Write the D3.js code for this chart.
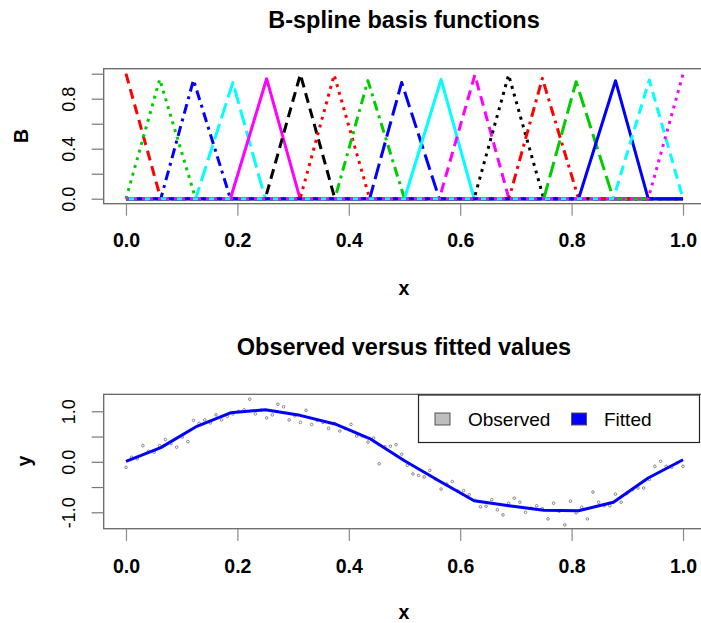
<!DOCTYPE html>
<html><head><meta charset="utf-8">
<script src="https://cdn.jsdelivr.net/npm/d3@7"></script>
<style>
body{margin:0;background:#fff}
svg{display:block}
text{font-family:"Liberation Sans",Arial,Helvetica,sans-serif;fill:#000}
</style>
</head><body>
<svg id="c" width="701" height="623"></svg>
<script>
// ---------- data ----------
const knots = [0, 0.0625, 0.125, 0.1875, 0.25, 0.3125, 0.375, 0.4375, 0.5, 0.5625, 0.625, 0.6875, 0.75, 0.8125, 0.875, 0.9375, 1];
const basisPeakX = [0, 0.0606, 0.1212, 0.1919, 0.2525, 0.3131, 0.3737, 0.4343, 0.4949, 0.5657, 0.6263, 0.6869, 0.7475, 0.8081, 0.8788, 0.9394, 1];
const basisPeakH = [1.0, 0.955, 0.95, 0.93, 0.96, 0.995, 0.99, 0.945, 0.93, 0.955, 0.99, 0.99, 0.963, 0.936, 0.944, 0.95, 0.995];
const fitX = knots;
const fitY = [0.01, 0.28, 0.69, 0.97, 1.03, 0.92, 0.75, 0.46, 0.02, -0.38, -0.77, -0.87, -0.96, -0.97, -0.80, -0.32, 0.04];
const obsY = [-0.11, 0.09, 0.06, 0.32, 0.21, 0.19, 0.32, 0.44, 0.36, 0.29,
  0.49, 0.40, 0.82, 0.76, 0.83, 0.77, 0.93, 0.83, 0.90, 0.95,
  1.00, 1.03, 1.24, 0.95, 1.02, 0.87, 0.93, 1.14, 1.09, 0.83,
  0.91, 0.78, 1.02, 0.74, 0.82, 0.78, 0.66, 0.76, 0.61, 0.66,
  0.74, 0.51, 0.51, 0.39, 0.47, -0.04, 0.30, 0.31, 0.34, 0.15,
  -0.07, -0.24, -0.27, -0.30, -0.17, -0.34, -0.54, -0.44, -0.39, -0.58,
  -0.57, -0.65, -0.76, -0.89, -0.88, -0.75, -0.95, -1.05, -0.82, -0.72,
  -0.80, -1.00, -0.92, -0.87, -0.93, -1.13, -0.82, -0.98, -1.25, -0.78,
  -1.01, -0.90, -1.13, -0.60, -0.80, -0.87, -0.87, -0.64, -0.80, -0.63,
  -0.55, -0.52, -0.52, -0.35, -0.09, 0.01, -0.09, -0.11, -0.02, -0.09];
const obsX = d3.range(obsY.length).map(k => k / (obsY.length - 1));
const xTicks = [0, 0.2, 0.4, 0.6, 0.8, 1.0];
const bTicks = [0, 0.2, 0.4, 0.6, 0.8, 1.0];
const bTickLabels = ["0.0", "", "0.4", "", "0.8", ""];
const yTicks = [-1, -0.5, 0, 0.5, 1];
const yTickLabels = ["-1.0", "", "0.0", "", "1.0"];
const legendLabels = ["Observed", "Fitted"];

// ---------- styles ----------
const palette = ["#000000", "#FF0000", "#00CD00", "#0000FF", "#00FFFF", "#FF00FF"];
const dashes = [null, "10,6", "3,5", "3,5,10,5", "16,6"];
const FONT = '"Liberation Sans",Arial,Helvetica,sans-serif';

const svg = d3.select("#c");
svg.append("rect").attr("width", 701).attr("height", 623).attr("fill", "#fff");

const x = d3.scaleLinear().domain([-0.04, 1.04]).range([103.7, 705.3]);

function xAxis(g, yBox, labelY) {
  const ax = d3.axisBottom(x).tickValues(xTicks).tickSize(12).tickSizeOuter(0).tickFormat(d3.format(".1f"));
  const a = g.append("g").attr("transform", `translate(0,${yBox})`).call(ax);
  a.select(".domain").remove();
  a.selectAll(".tick line").attr("stroke", "#8a8a8a").attr("stroke-width", 1.2);
  a.selectAll(".tick text").attr("y", labelY).attr("dy", 0)
    .attr("font-family", FONT).attr("font-size", 19.5).attr("font-weight", "bold").attr("fill", "#000");
}

function yAxis(g, yScale, ticks, labels, labelX) {
  const ax = d3.axisLeft(yScale).tickValues(ticks).tickSize(12).tickSizeOuter(0).tickFormat((d, i) => labels[i]);
  const a = g.append("g").attr("transform", `translate(103.7,0)`).call(ax);
  a.select(".domain").remove();
  a.selectAll(".tick line").attr("stroke", "#777").attr("stroke-width", 1.2);
  a.selectAll(".tick text").attr("x", 0).attr("dy", 0).attr("text-anchor", "middle")
    .attr("transform", `translate(${labelX - 103.7},0) rotate(-90)`)
    .attr("font-family", FONT).attr("font-size", 18).attr("fill", "#000");
}

// ---------- top panel ----------
const yB = d3.scaleLinear().domain([-0.04, 1.04]).range([203.7, 68.7]);
const topG = svg.append("g");

topG.append("text").attr("x", 404).attr("y", 28).attr("text-anchor", "middle")
  .attr("font-size", 23.5).attr("font-weight", "bold").text("B-spline basis functions");

const line = d3.line().x(d => x(d[0])).y(d => yB(d[1]));
basisPeakX.forEach((px, j) => {
  const pts = [];
  const lo = knots[Math.max(0, j - 1)], hi = knots[Math.min(knots.length - 1, j + 1)];
  if (j > 0) { pts.push([0, 0]); pts.push([lo, 0]); }
  pts.push([px, basisPeakH[j]]);
  if (j < knots.length - 1) { pts.push([hi, 0]); pts.push([1, 0]); }
  const k = j + 1;
  topG.append("path").attr("d", line(pts)).attr("fill", "none")
    .attr("stroke", palette[k % 6]).attr("stroke-width", 3)
    .attr("stroke-dasharray", dashes[k % 5]).attr("stroke-linejoin", "round");
});

topG.append("rect").attr("x", x(-0.04)).attr("y", yB(1.04)).attr("width", x(1.04) - x(-0.04))
  .attr("height", yB(-0.04) - yB(1.04)).attr("fill", "none").attr("stroke", "#666").attr("stroke-width", 1.3);
xAxis(topG, 203.7, 43);
yAxis(topG, yB, bTicks, bTickLabels, 75);

topG.append("text").attr("x", 404).attr("y", 295).attr("text-anchor", "middle")
  .attr("font-size", 19.5).attr("font-weight", "bold").text("x");
topG.append("text").attr("transform", `translate(28,136) rotate(-90)`).attr("text-anchor", "middle")
  .attr("font-size", 19.5).attr("font-weight", "bold").text("B");

// ---------- bottom panel ----------
const yF = d3.scaleLinear().domain([-1, 1]).range([512.3, 411.3]);
const botG = svg.append("g");
botG.append("text").attr("x", 404).attr("y", 355).attr("text-anchor", "middle")
  .attr("font-size", 23.5).attr("font-weight", "bold").text("Observed versus fitted values");

botG.selectAll("circle.obs").data(obsY).enter().append("circle")
  .attr("cx", (d, i) => x(obsX[i])).attr("cy", d => yF(d)).attr("r", 1.3)
  .attr("fill", "none").attr("stroke", "#7a7a7a").attr("stroke-width", 0.9);

const fline = d3.line().x((d, i) => x(fitX[i])).y(d => yF(d));
botG.append("path").attr("d", fline(fitY)).attr("fill", "none").attr("stroke", "#0000FF")
  .attr("stroke-width", 3).attr("stroke-linejoin", "round");

botG.append("rect").attr("x", x(-0.04)).attr("y", yF(1.336)).attr("width", x(1.04) - x(-0.04))
  .attr("height", yF(-1.325) - yF(1.336)).attr("fill", "none").attr("stroke", "#666").attr("stroke-width", 1.3);
xAxis(botG, 529, 44);
yAxis(botG, yF, yTicks, yTickLabels, 75);

botG.append("text").attr("x", 404).attr("y", 619).attr("text-anchor", "middle")
  .attr("font-size", 19.5).attr("font-weight", "bold").text("x");
botG.append("text").attr("transform", `translate(31,461) rotate(-90)`).attr("text-anchor", "middle")
  .attr("font-size", 19.5).attr("font-weight", "bold").text("y");

// legend
const lg = botG.append("g");
lg.append("rect").attr("x", 418.5).attr("y", 395).attr("width", 281).attr("height", 47.5)
  .attr("fill", "#fff").attr("stroke", "#222").attr("stroke-width", 1.2);
const legFill = ["#BEBEBE", "#0000FF"];
const legBoxX = [435, 571.5], legTextX = [468, 604];
legendLabels.forEach((t, i) => {
  lg.append("rect").attr("x", legBoxX[i]).attr("y", 413).attr("width", 15).attr("height", 12)
    .attr("fill", legFill[i]).attr("stroke", "#555").attr("stroke-width", 1);
  lg.append("text").attr("x", legTextX[i]).attr("y", 426).attr("font-size", 19).text(t);
});
</script>
</body></html>
